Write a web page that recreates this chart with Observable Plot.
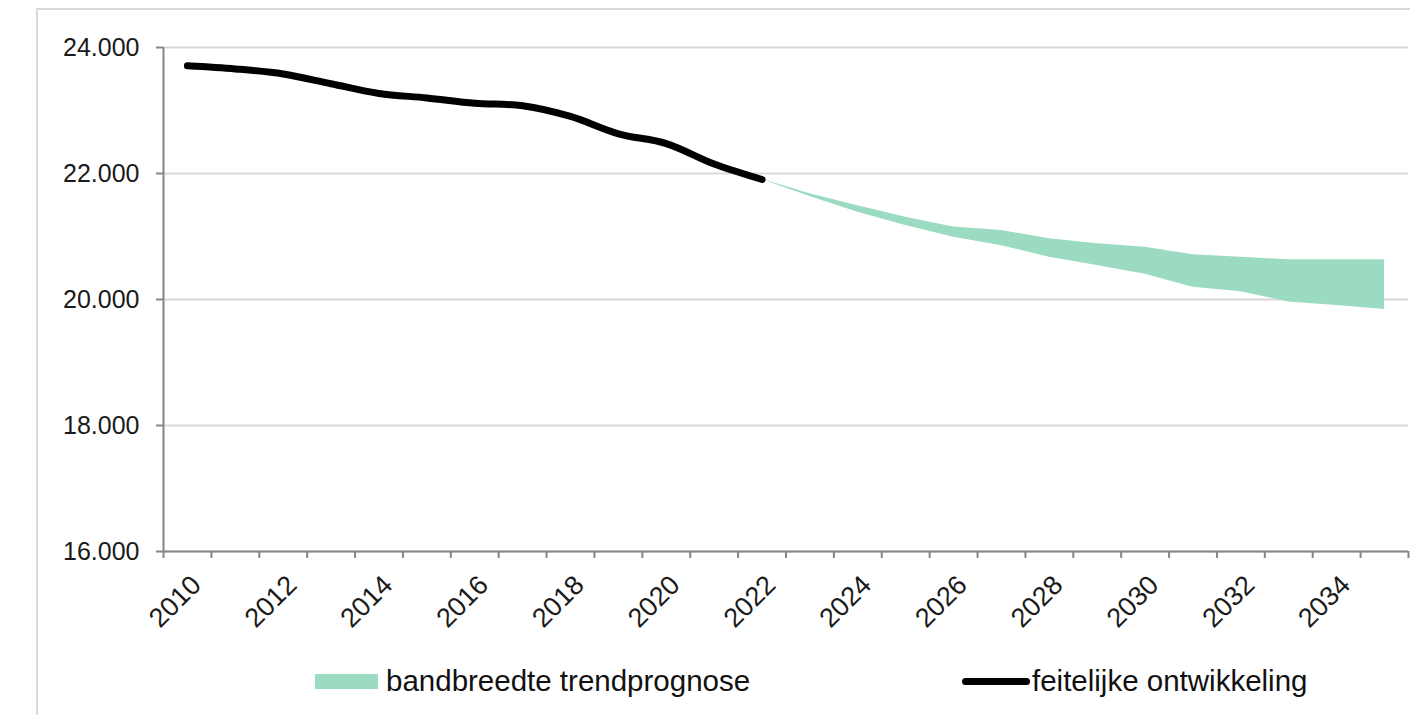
<!DOCTYPE html>
<html><head><meta charset="utf-8">
<script src="https://cdn.jsdelivr.net/npm/d3@7"></script>
<script src="https://cdn.jsdelivr.net/npm/@observablehq/plot@0.6"></script>
<style>
body{margin:0;background:#fff;font-family:"Liberation Sans",Arial,sans-serif;}
#wrap{position:relative;width:1410px;height:715px;overflow:hidden;background:#fff;}
#frame{position:absolute;left:36px;top:8px;width:1420px;height:730px;border:2px solid #d9d9d9;box-sizing:border-box;}
#chart{position:absolute;left:0;top:0;}
#legend{position:absolute;left:0;top:645px;width:1410px;height:70px;}
.item{position:absolute;top:21px;height:30px;display:flex;align-items:center;font-size:29.5px;color:#111;white-space:nowrap;}
.sw-area{width:63px;height:15px;background:#9bdbc1;margin-right:8px;}
.sw-line{width:68px;height:7px;background:#000;border-radius:4px;margin-right:2px;}
</style></head>
<body>
<div id="wrap">
  <div id="frame"></div>
  <div id="chart"></div>
  <div id="legend"></div>
</div>
<script>
// Data
const actualYears = [2010,2011,2012,2013,2014,2015,2016,2017,2018,2019,2020,2021,2022];
const actualValues = [23710,23660,23580,23425,23270,23200,23115,23075,22905,22630,22475,22150,21905];
const forecastYears = [2022,2023,2024,2025,2026,2027,2028,2029,2030,2031,2032,2033,2034,2035];
const forecastHigh = [21905,21680,21490,21305,21150,21095,20965,20885,20830,20710,20670,20630,20630,20630];
const forecastLow  = [21905,21635,21385,21175,20990,20855,20670,20540,20400,20195,20125,19960,19905,19840];
const yTicks = [16000,18000,20000,22000,24000];
const labelYears = [2010,2012,2014,2016,2018,2020,2022,2024,2026,2028,2030,2032,2034];
const allYears = d3.range(2010, 2036);
const legendLabels = ["bandbreedte trendprognose", "feitelijke ontwikkeling"];

const actual = actualYears.map((year, i) => ({year, value: actualValues[i]}));
const forecast = forecastYears.map((year, i) => ({year, high: forecastHigh[i], low: forecastLow[i]}));
const boundaries = [...allYears.map(y => y - 0.5), allYears[allYears.length - 1] + 0.5];
const fmt = d => d3.format(",")(d).replace(/,/g, ".");

const plot = Plot.plot({
  width: 1410, height: 645,
  marginLeft: 163, marginRight: 2, marginTop: 47, marginBottom: 94,
  x: {domain: [boundaries[0], boundaries[boundaries.length - 1]], label: null},
  y: {domain: [16000, 24000], label: null},
  style: {fontFamily: "'Liberation Sans', Arial, sans-serif", fontSize: "25px", color: "#1a1a1a", background: "transparent", overflow: "visible"},
  marks: [
    Plot.gridY({ticks: yTicks, stroke: "#d9d9d9", strokeOpacity: 1, strokeWidth: 2}),
    Plot.areaY(forecast, {x: "year", y1: "low", y2: "high", fill: "#9bdbc1"}),
    Plot.line(actual, {x: "year", y: "value", stroke: "#000", strokeWidth: 7, curve: "catmull-rom", strokeLinecap: "round", strokeLinejoin: "round"}),
    Plot.ruleX([boundaries[0]], {y1: 16000, y2: 24000, stroke: "#868686", strokeWidth: 2}),
    Plot.ruleY([16000], {stroke: "#868686", strokeWidth: 2}),
    Plot.axisY({ticks: yTicks, tickSize: 7, tickPadding: 17, tickFormat: fmt, stroke: "#868686", strokeWidth: 2, strokeOpacity: 1, fontSize: 25, label: null}),
    Plot.axisX({ticks: boundaries, tickSize: 7, tickFormat: () => "", stroke: "#868686", strokeWidth: 2, strokeOpacity: 1, label: null}),
    Plot.axisX({ticks: labelYears, tickSize: 0, tickPadding: 29, dx: 9, tickRotate: -45, tickFormat: d => String(d), fontSize: 27, label: null})
  ]
});
document.getElementById("chart").appendChild(plot);

const legend = document.getElementById("legend");
const it1 = document.createElement("div");
it1.className = "item"; it1.style.left = "315px";
it1.innerHTML = `<span class="sw-area"></span><span>${legendLabels[0]}</span>`;
const it2 = document.createElement("div");
it2.className = "item"; it2.style.left = "962px";
it2.innerHTML = `<span class="sw-line"></span><span>${legendLabels[1]}</span>`;
legend.appendChild(it1); legend.appendChild(it2);
</script>
</body></html>
